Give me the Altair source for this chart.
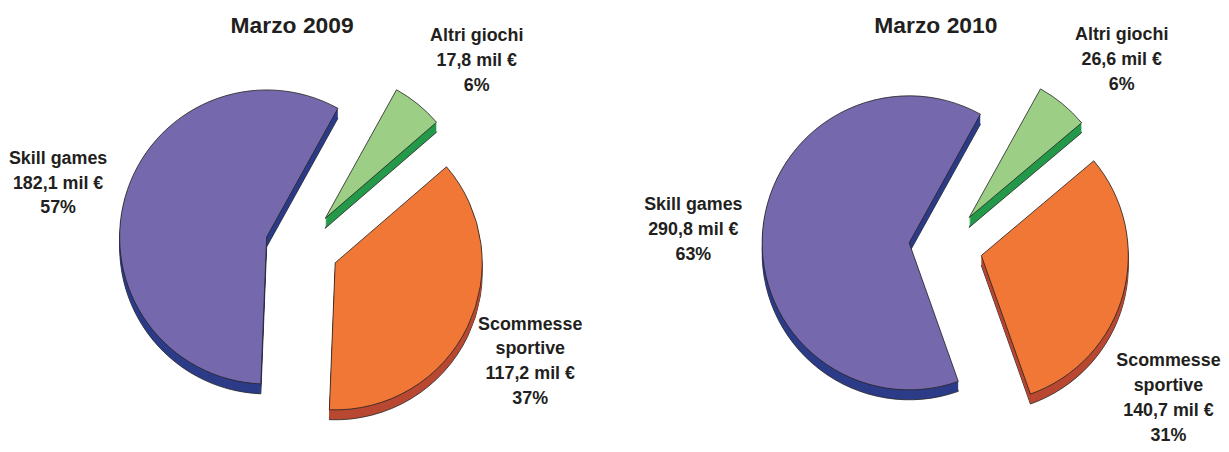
import math
import textwrap
import altair as alt
import pandas as pd

# ---- data ----
categories = ["Altri giochi", "Scommesse sportive", "Skill games"]
panel_titles = ["Marzo 2009", "Marzo 2010"]
values_2009 = [17.8, 117.2, 182.1]
values_2010 = [26.6, 140.7, 290.8]

# ---- styling ----
face_colors = ["#9CCE85", "#F07736", "#7668AC"]
side_colors = ["#24994A", "#B94832", "#2D3C88"]
TEXT_COLOR = "#231F20"
OUTLINE = "#222222"
FONT = "Liberation Sans"

START = math.radians(29)   # first slice angle
R = 148                    # pie radius (px)
EXPLODE = 37               # explosion distance (px)
DEPTH = 10                 # 3-D thickness (px)
LABEL_R = 255              # label distance from centre (px)
LINE_H = 25
H = 436


def panel_df(values):
    total = sum(values)
    rows = []
    for i, (c, v) in enumerate(zip(categories, values)):
        label = (textwrap.fill(c, 12) + "\n"
                 + f"{v:.1f}".replace(".", ",") + " mil €\n"
                 + f"{round(v / total * 100)}%")
        rows.append({"order": i, "category": c, "value": v, "label": label})
    return pd.DataFrame(rows)


def make_panel(title, values, W, cx, cy, nudges):
    df = panel_df(values)
    xs = alt.Scale(domain=[0, W], range=[0, W], nice=False, zero=False)
    ys = alt.Scale(domain=[0, H], range=[0, H], nice=False, zero=False)
    ts = alt.Scale(domain=[0, 1], range=[START, START + 2 * math.pi], nice=False, zero=False)

    base = (
        alt.Chart(df)
        .transform_joinaggregate(total="sum(value)")
        .transform_window(cum="sum(value)", sort=[alt.SortField("order")], frame=[None, 0])
        .transform_calculate(f0="(datum.cum - datum.value) / datum.total")
        .transform_calculate(f1="datum.cum / datum.total")
        .transform_calculate(ang=f"{START} + 2 * PI * (datum.cum - datum.value / 2) / datum.total")
        .transform_calculate(nl="length(split(datum.label, '\\n'))")
        .transform_calculate(ex=f"{cx} + {EXPLODE} * sin(datum.ang)")
        .transform_calculate(ey=f"{cy} - {EXPLODE} * cos(datum.ang)")
        .transform_calculate(lx=f"{cx} + {LABEL_R} * sin(datum.ang)")
        .transform_calculate(ly=f"{cy} - {LABEL_R} * cos(datum.ang) - (datum.nl - 1) * {LINE_H} / 2")
    )

    pos = dict(
        x=alt.X("ex:Q", scale=xs, axis=None),
        y=alt.Y("ey:Q", scale=ys, axis=None),
        theta=alt.Theta("f0:Q", scale=ts),
        theta2="f1:Q",
    )

    layers = []
    for k in range(DEPTH, 0, -1):
        props = dict(radius=R, yOffset=k)
        if k == DEPTH:
            props.update(stroke=OUTLINE, strokeWidth=0.8)
        layers.append(
            base.mark_arc(**props).encode(
                fill=alt.Fill("category:N", scale=alt.Scale(domain=categories, range=side_colors), legend=None),
                **pos,
            )
        )
    layers.append(
        base.mark_arc(radius=R, stroke=OUTLINE, strokeWidth=0.8).encode(
            color=alt.Color("category:N", scale=alt.Scale(domain=categories, range=face_colors), legend=None),
            **pos,
        )
    )

    text_style = dict(font=FONT, fontSize=18, fontWeight="bold", lineBreak="\n",
                      lineHeight=LINE_H, color=TEXT_COLOR, align="center", baseline="middle")
    tpos = dict(x=alt.X("lx:Q", scale=xs, axis=None), y=alt.Y("ly:Q", scale=ys, axis=None),
                text="label:N")
    nudged = list(nudges.keys())
    main_txt = base
    if nudged:
        cond = " && ".join([f"datum.category != '{c}'" for c in nudged])
        main_txt = base.transform_filter(cond)
    layers.append(main_txt.mark_text(dy=5, **text_style).encode(**tpos))
    for c, (ddx, ddy) in nudges.items():
        layers.append(
            base.transform_filter(f"datum.category == '{c}'")
            .mark_text(dx=ddx, dy=ddy, **text_style).encode(**tpos)
        )

    layers.append(
        alt.Chart(pd.DataFrame({"title": [title]}))
        .mark_text(font=FONT, fontSize=23, fontWeight="bold", color=TEXT_COLOR,
                   align="center", baseline="middle")
        .encode(x=alt.X(datum=cx - 10, scale=xs, axis=None),
                y=alt.Y(datum=17, scale=ys, axis=None),
                text="title:N")
    )
    return alt.layer(*layers).properties(width=W, height=H)


p1 = make_panel(panel_titles[0], values_2009, 600, 291, 239,
                {"Altri giochi": (15, 11)})
p2 = make_panel(panel_titles[1], values_2010, 613, 339, 238,
                {"Altri giochi": (15, 10), "Scommesse sportive": (-22, 87)})

chart = (
    alt.hconcat(p1, p2, spacing=0, bounds="flush")
    .properties(padding=0)
    .configure_view(stroke=None)
)

chart.save("out.html", embed_options={"renderer": "svg", "actions": False})
